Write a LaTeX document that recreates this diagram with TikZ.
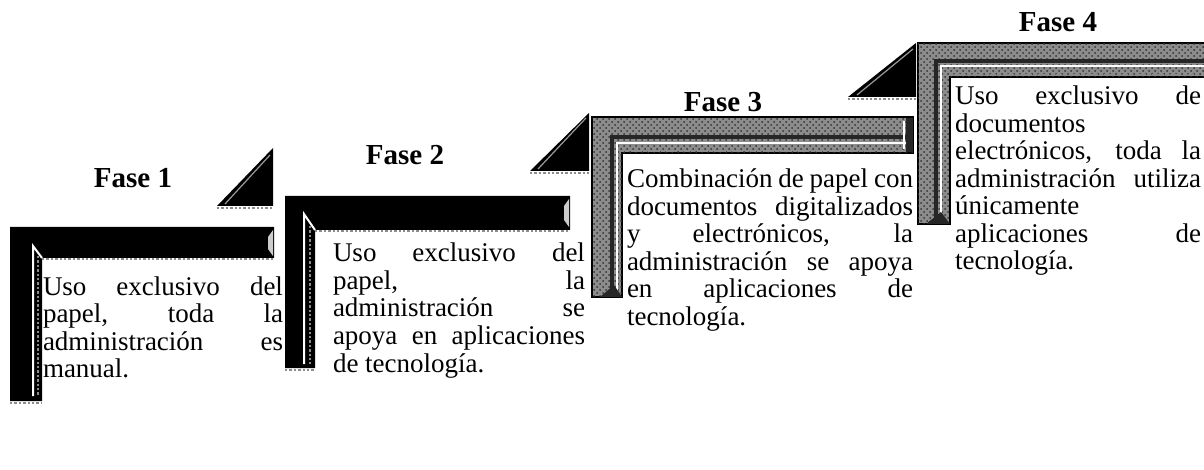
\documentclass[tikz,border=0pt]{standalone}
\usepackage{fontspec}
\setmainfont{Liberation Serif}
\usetikzlibrary{patterns}

\newcommand{\jline}[1]{\leavevmode\hbox to \hsize{#1}}

\begin{document}
\begin{tikzpicture}[x = 0.5pt, y = -0.5pt, % one unit = one pixel, y going down
                line join = miter,
                font = \fontsize{13.5}{13.75}\selectfont % body text
            ]

            \tikzstyle{every node}=[inner sep = 0pt, outer sep = 0pt]
            \tikzstyle{blackbar}=[fill = black]
            \tikzstyle{greybar}=[fill = black!45, draw = black, line width = 0.8pt]
            \tikzstyle{grain}=[pattern = crosshatch dots, pattern color = black!80]
            \tikzstyle{groove}=[draw = black!85, line width = 2pt]
            \tikzstyle{bevelline}=[draw = white, line width = 1pt]
            \tikzstyle{shadowline}=[draw = black!45, line width = 1.2pt, densely dotted]
            \tikzstyle{endcap}=[fill = black!20]
            \tikzstyle{wedge}=[fill = black]
            \tikzstyle{phaselabel}=[font = \fontsize{14.5}{14.5}\selectfont\bfseries, anchor = base]
            \tikzstyle{body}=[anchor = base west, align = justify]

            \useasboundingbox (0,0) rectangle (1204,470);

            % fase 1 frame
            \fill[blackbar] (10,227) -- (274,227) -- (274,258) -- (42,258) -- (42,401) -- (10,401) -- cycle;
            \draw[bevelline] (42,258) -- (33,246) -- (33,396);
            \draw[shadowline] (38,256) -- (38,396);
            \draw[shadowline] (42,259) -- (274,259); \draw[shadowline] (10,403) -- (42,403);
            \fill[endcap] (273,230) -- (268,237) -- (268,249) -- (273,256) -- cycle;

            % fase 2 frame
            \fill[blackbar] (285,196) -- (570,196) -- (570,230) -- (315,230) -- (315,368) -- (285,368) -- cycle;
            \draw[bevelline] (315,230) -- (304,214) -- (304,364);
            \draw[shadowline] (310,226) -- (310,364);
            \draw[shadowline] (315,231) -- (570,231); \draw[shadowline] (285,370) -- (315,370);
            \fill[endcap] (569,199) -- (564,206) -- (564,220) -- (569,227) -- cycle;

            % fase 3 frame
            \filldraw[greybar] (592,117) -- (913,117) -- (913,153) -- (622,153) -- (622,297) -- (592,297) -- cycle;
            \fill[grain] (592,117) -- (913,117) -- (913,153) -- (622,153) -- (622,297) -- (592,297) -- cycle;
            \draw[groove] (612,294) -- (612,137) -- (906,137);
            \draw[bevelline] (617,294) -- (617,143) -- (906,143);
            \draw[shadowline] (622,151) -- (906,151);
            \fill[black!85] (906,118) -- (913,118) -- (913,152) -- (906,152) -- cycle;
            \draw[bevelline] (904,121) -- (904,149);
            \fill[black!85] (600,297) -- (622,297) -- (614,285) -- cycle;

            % fase 4 frame
            \filldraw[greybar] (918,43) -- (1210,43) -- (1210,77) -- (950,77) -- (950,224) -- (918,224) -- cycle;
            \fill[grain] (918,43) -- (1210,43) -- (1210,77) -- (950,77) -- (950,224) -- (918,224) -- cycle;
            \draw[groove] (936,221) -- (936,61) -- (1210,61);
            \draw[bevelline] (941,221) -- (941,66) -- (1210,66);
            \draw[shadowline] (950,75) -- (1210,75);
            \fill[black!85] (926,224) -- (950,224) -- (941,212) -- cycle;

            % steps
            \fill[wedge] (217,206) -- (273,206) -- (273,148) -- cycle;
            \draw[black!40, line width = 0.6pt] (225,204) -- (270,155);
            \draw[shadowline] (217,208) -- (273,208);
            \fill[wedge] (530,171) -- (589,171) -- (589,113) -- cycle;
            \draw[black!40, line width = 0.6pt] (538,169) -- (586,118);
            \draw[shadowline] (530,173) -- (589,173);
            \fill[wedge] (848,97) -- (916,97) -- (916,43) -- cycle;
            \draw[black!40, line width = 0.6pt] (857,95) -- (913,49);
            \draw[shadowline] (848,99) -- (916,99);

            \node[phaselabel] (f1) at (133,188) {Fase 1};
            \node[phaselabel] (f2) at (405,165) {Fase 2};
            \node[phaselabel] (f3) at (723,112) {Fase 3};
            \node[phaselabel] (f4) at (1058,32) {Fase 4};

            \node[body, text width = 120pt] (t1) at (43,295) {\jline{Uso exclusivo del}\\
                \jline{papel, toda la}\\ \jline{administración es}\\ manual.};
            \node[body, text width = 126pt] (t2) at (333,262) {\jline{Uso exclusivo del}\\
                \jline{papel, la}\\ \jline{administración se}\\
                \jline{apoya en aplicaciones}\\ de tecnología.};
            \node[body, text width = 143pt] (t3) at (627,188) {\jline{Combinación de papel con}\\
                \jline{documentos digitalizados}\\ \jline{y electrónicos, la}\\
                \jline{administración se apoya}\\ \jline{en aplicaciones de}\\ tecnología.};
            \node[body, text width = 123pt] (t4) at (955,105) {\jline{Uso exclusivo de}\\
                documentos\\ \jline{electrónicos, toda la}\\ \jline{administración utiliza}\\
                únicamente\\ \jline{aplicaciones de}\\ tecnología.};
\end{tikzpicture}
\end{document}
